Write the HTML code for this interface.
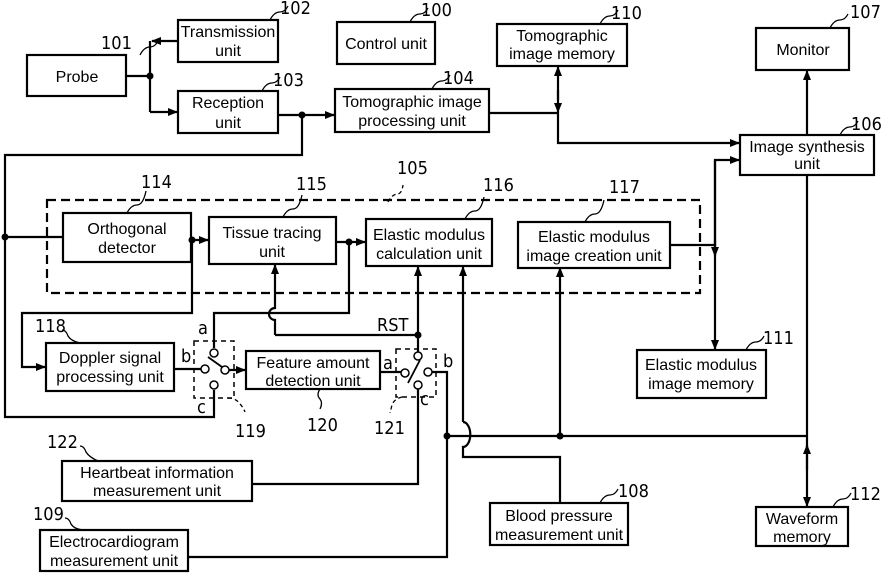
<!DOCTYPE html>
<html><head><meta charset="utf-8"><style>
html,body{margin:0;padding:0;background:#fff}
svg{display:block}
text{font-family:"Liberation Sans Narrow","Liberation Sans",sans-serif;font-size:16px;fill:#000}
.l{font-size:18px;font-family:"Liberation Sans Narrow","DejaVu Sans Condensed","Liberation Sans",sans-serif}
</style></head><body>
<svg width="883" height="574" viewBox="0 0 883 574" xmlns="http://www.w3.org/2000/svg">
<defs>
<marker id="a" markerWidth="10" markerHeight="10" refX="9" refY="5" orient="auto" markerUnits="userSpaceOnUse"><path d="M0,1 L10,5 L0,9 z" fill="#000"/></marker>
</defs>
<g fill="none" stroke="#000" stroke-width="2.2">
<rect x="27" y="55" width="99" height="41"/>
<rect x="178" y="20" width="100" height="42"/>
<rect x="337" y="22" width="98" height="42"/>
<rect x="497" y="24" width="130" height="42"/>
<rect x="756" y="28" width="93" height="42"/>
<rect x="178" y="91" width="100" height="42"/>
<rect x="335" y="89" width="154" height="43"/>
<rect x="740" y="135" width="134" height="40"/>
<rect x="63" y="213" width="128" height="49"/>
<rect x="209" y="217" width="127" height="47"/>
<rect x="366" y="219" width="126" height="47"/>
<rect x="518" y="222" width="152" height="46"/>
<rect x="637" y="350" width="129" height="48"/>
<rect x="46" y="343" width="128" height="48"/>
<rect x="246" y="351" width="134" height="38"/>
<rect x="62" y="461" width="190" height="40"/>
<rect x="40" y="530" width="148" height="41"/>
<rect x="490" y="503" width="138" height="42"/>
<rect x="756" y="507" width="92" height="39"/>
<rect x="47" y="200" width="653" height="93" stroke-dasharray="9,5"/>
<rect x="194" y="341" width="40" height="57" stroke-width="1.5" stroke-dasharray="5,4"/>
<rect x="396" y="349" width="40" height="48" stroke-width="1.5" stroke-dasharray="5,4"/>
<path d="M126,76 H150 M150,41 V112"/>
<path d="M178,41 H152" marker-end="url(#a)"/>
<path d="M150,112 H177" marker-end="url(#a)"/>
<path d="M278,115 H334" marker-end="url(#a)"/>
<path d="M302,115 V155 H5 V417 H214 V390"/>
<path d="M5,237 H63"/>
<path d="M489,113 H558 V143 H739" marker-end="url(#a)"/>
<path d="M558,100 V67" marker-end="url(#a)"/>
<path d="M558,90 V112" marker-end="url(#a)"/>
<path d="M807,135 V71" marker-end="url(#a)"/>
<path d="M807,175 V506" marker-end="url(#a)"/>
<path d="M807,470 V445" marker-end="url(#a)"/>
<path d="M670,245 H715 V160 H739" marker-end="url(#a)"/>
<path d="M715,160 V349" marker-end="url(#a)"/>
<path d="M715,240 V256" marker-end="url(#a)"/>
<path d="M191,240 H208" marker-end="url(#a)"/>
<path d="M192,240 V313 H22 V367 H45" marker-end="url(#a)"/>
<path d="M336,242 H365" marker-end="url(#a)"/>
<path d="M349,242 V313 H214 V348"/>
<path d="M275,335 V320 A6,6 0 0 1 275,308 V265" marker-end="url(#a)"/>
<path d="M275,335 H418"/>
<path d="M418,352 V267" marker-end="url(#a)"/>
<path d="M174,369 H202"/>
<path d="M228,370 H245" marker-end="url(#a)"/>
<path d="M208,357 L222,367" stroke-width="1.8"/>
<path d="M380,372 H401"/>
<path d="M408,383 L420,360" stroke-width="1.8"/>
<path d="M432,372 H447 V557 H188"/>
<path d="M418,389 V484 H252"/>
<path d="M447,436 H807"/>
<path d="M560,436 V268" marker-end="url(#a)"/>
<path d="M463,422 A7,12 0 0 1 463,447 V457 H560 V503"/>
<path d="M463,422 V267" marker-end="url(#a)"/>
<path d="M140,55 q4,-8 10,-8 q5,0 8,-6" stroke-width="1.3"/>
<path d="M270,20 q4,-8 10,-8 q5,0 8,-6" stroke-width="1.3"/>
<path d="M410,22 q4,-8 10,-8 q5,0 8,-6" stroke-width="1.3"/>
<path d="M600,24 q4,-8 10,-8 q5,0 8,-6" stroke-width="1.3"/>
<path d="M830,28 q4,-8 10,-8 q5,0 8,-6" stroke-width="1.3"/>
<path d="M262,91 q4,-8 10,-8 q5,0 8,-6" stroke-width="1.3"/>
<path d="M432,89 q4,-8 10,-8 q5,0 8,-6" stroke-width="1.3"/>
<path d="M840,135 q4,-8 10,-8 q5,0 8,-6" stroke-width="1.3"/>
<path d="M746,350 q4,-8 10,-8 q5,0 8,-6" stroke-width="1.3"/>
<path d="M600,503 q4,-8 10,-8 q5,0 8,-6" stroke-width="1.3"/>
<path d="M833,507 q4,-8 10,-8 q5,0 8,-6" stroke-width="1.3"/>
<path d="M127,213 q4,-8 10,-8 q6,0 9,-14" stroke-width="1.3"/>
<path d="M283,217 q4,-8 10,-8 q6,0 9,-14" stroke-width="1.3"/>
<path d="M465,219 q4,-8 10,-8 q6,0 9,-14" stroke-width="1.3"/>
<path d="M585,222 q4,-8 10,-8 q6,0 9,-14" stroke-width="1.3"/>
<path d="M388,202 q4,-8 10,-8 q4,-1 5,-9" stroke-width="1.3" stroke-dasharray="4,3"/>
<path d="M62,330 q4,0 6,6 q3,5 12,7" stroke-width="1.3"/>
<path d="M80,446 q4,0 6,6 q3,5 12,9" stroke-width="1.3"/>
<path d="M65,518 q4,0 6,6 q3,5 12,6" stroke-width="1.3"/>
<path d="M228,398 q8,0 12,6 q3,3 5,8" stroke-width="1.3" stroke-dasharray="4,3"/>
<path d="M320,389 q-4,6 0,10 q3,4 0,10" stroke-width="1.3"/>
<path d="M402,397 q-8,2 -10,8 q-1,4 -2,8" stroke-width="1.3" stroke-dasharray="4,3"/>
</g>
<g fill="#fff" stroke="#000" stroke-width="1.5">
<circle cx="214" cy="353" r="4"/><circle cx="205" cy="369" r="4"/><circle cx="225" cy="370" r="4"/><circle cx="214" cy="385" r="4"/>
<circle cx="418" cy="356" r="4"/><circle cx="405" cy="373" r="4"/><circle cx="428" cy="372" r="4"/><circle cx="418" cy="385" r="4"/>
</g>
<g fill="#000">
<circle cx="150" cy="76" r="3.5"/><circle cx="302" cy="115" r="3.5"/><circle cx="5" cy="237" r="3.5"/>
<circle cx="192" cy="240" r="3.5"/><circle cx="349" cy="242" r="3.5"/><circle cx="418" cy="335" r="3.5"/>
<circle cx="447" cy="436" r="3.5"/><circle cx="560" cy="436" r="3.5"/>
</g>
<g text-anchor="middle">
<text x="77" y="82">Probe</text>
<text x="228" y="37">Transmission</text><text x="228" y="56">unit</text>
<text x="386" y="49">Control unit</text>
<text x="562" y="41">Tomographic</text><text x="562" y="59">image memory</text>
<text x="803" y="55">Monitor</text>
<text x="228" y="108">Reception</text><text x="228" y="128">unit</text>
<text x="412" y="107">Tomographic image</text><text x="412" y="126">processing unit</text>
<text x="807" y="152">Image synthesis</text><text x="807" y="169">unit</text>
<text x="127" y="234">Orthogonal</text><text x="127" y="253">detector</text>
<text x="272" y="238">Tissue tracing</text><text x="272" y="257">unit</text>
<text x="429" y="240">Elastic modulus</text><text x="429" y="259">calculation unit</text>
<text x="594" y="242">Elastic modulus</text><text x="594" y="261">image creation unit</text>
<text x="701" y="370">Elastic modulus</text><text x="701" y="389">image memory</text>
<text x="110" y="363">Doppler signal</text><text x="110" y="382">processing unit</text>
<text x="313" y="368">Feature amount</text><text x="313" y="386">detection unit</text>
<text x="157" y="478">Heartbeat information</text><text x="157" y="496">measurement unit</text>
<text x="114" y="547">Electrocardiogram</text><text x="114" y="566">measurement unit</text>
<text x="559" y="521">Blood pressure</text><text x="559" y="540">measurement unit</text>
<text x="802" y="524">Waveform</text><text x="802" y="542">memory</text>
</g>
<g>
<text class="l" x="101" y="49">101</text>
<text class="l" x="280" y="14">102</text>
<text class="l" x="421" y="16">100</text>
<text class="l" x="611" y="19">110</text>
<text class="l" x="850" y="18">107</text>
<text class="l" x="273" y="86">103</text>
<text class="l" x="443" y="84">104</text>
<text class="l" x="851" y="130">106</text>
<text class="l" x="397" y="174">105</text>
<text class="l" x="141" y="188">114</text>
<text class="l" x="296" y="190">115</text>
<text class="l" x="483" y="191">116</text>
<text class="l" x="609" y="193">117</text>
<text class="l" x="763" y="344">111</text>
<text class="l" x="35" y="332">118</text>
<text class="l" x="377" y="331">RST</text>
<text class="l" x="198" y="334">a</text>
<text class="l" x="181" y="362">b</text>
<text class="l" x="197" y="413">c</text>
<text class="l" x="383" y="369">a</text>
<text class="l" x="443" y="367">b</text>
<text class="l" x="420" y="405">c</text>
<text class="l" x="235" y="437">119</text>
<text class="l" x="307" y="431">120</text>
<text class="l" x="374" y="434">121</text>
<text class="l" x="47" y="448">122</text>
<text class="l" x="33" y="520">109</text>
<text class="l" x="618" y="497">108</text>
<text class="l" x="850" y="500">112</text>
</g>
</svg>
</body></html>
